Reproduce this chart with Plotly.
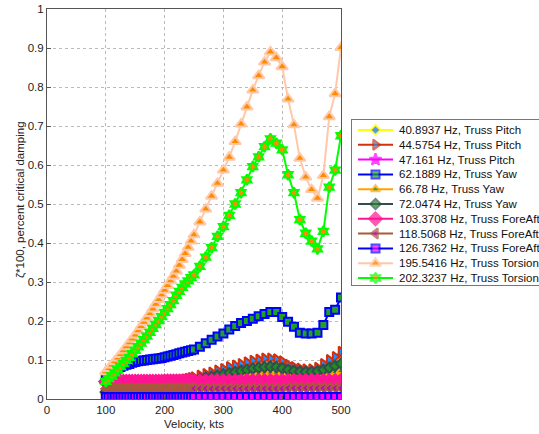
import plotly.graph_objects as go

velocity = [100, 105, 110, 115, 120, 125, 130, 135, 140, 145, 150, 155, 160, 165, 170, 175,
            180, 185, 190, 195, 200, 205, 210, 215, 220, 225, 230, 235, 240, 245, 250,
            260, 270, 280, 290, 300, 310, 320, 330, 340, 350, 360, 370, 380, 390, 400,
            410, 420, 430, 440, 450, 460, 470, 480, 490, 500]

pitch_40 = [0.015, 0.016, 0.017, 0.018, 0.019, 0.020, 0.021, 0.022, 0.022, 0.023, 0.024, 0.025,
            0.026, 0.026, 0.027, 0.028, 0.029, 0.030, 0.030, 0.031, 0.032, 0.033, 0.033, 0.034,
            0.035, 0.036, 0.036, 0.037, 0.038, 0.038, 0.039, 0.041, 0.042, 0.044, 0.045, 0.047,
            0.048, 0.050, 0.051, 0.052, 0.054, 0.055, 0.056, 0.057, 0.057, 0.056, 0.055, 0.054,
            0.053, 0.053, 0.053, 0.054, 0.055, 0.057, 0.059, 0.062]
pitch_44 = [0.020, 0.021, 0.022, 0.023, 0.024, 0.025, 0.026, 0.027, 0.028, 0.029, 0.030, 0.031,
            0.032, 0.033, 0.034, 0.035, 0.036, 0.037, 0.038, 0.039, 0.041, 0.042, 0.043, 0.044,
            0.045, 0.047, 0.048, 0.050, 0.052, 0.054, 0.056, 0.060, 0.064, 0.068, 0.073, 0.077,
            0.082, 0.086, 0.090, 0.094, 0.098, 0.101, 0.104, 0.104, 0.102, 0.097, 0.088, 0.082,
            0.078, 0.076, 0.076, 0.080, 0.090, 0.100, 0.108, 0.121]
pitch_47 = [0.036, 0.036, 0.036, 0.036, 0.036, 0.036, 0.036, 0.037, 0.037, 0.037, 0.037, 0.037,
            0.037, 0.037, 0.037, 0.037, 0.037, 0.037, 0.038, 0.038, 0.038, 0.038, 0.038, 0.038,
            0.038, 0.038, 0.038, 0.038, 0.038, 0.038, 0.038, 0.039, 0.039, 0.039, 0.039, 0.039,
            0.039, 0.040, 0.040, 0.040, 0.040, 0.040, 0.040, 0.040, 0.040, 0.040, 0.040, 0.040,
            0.040, 0.040, 0.040, 0.040, 0.040, 0.041, 0.041, 0.041]
yaw_62 = [0.058, 0.064, 0.069, 0.074, 0.078, 0.082, 0.085, 0.088, 0.090, 0.093, 0.095, 0.097,
          0.098, 0.099, 0.100, 0.101, 0.102, 0.103, 0.104, 0.105, 0.107, 0.109, 0.111, 0.113,
          0.115, 0.117, 0.119, 0.121, 0.123, 0.125, 0.127, 0.134, 0.143, 0.152, 0.160, 0.168,
          0.178, 0.187, 0.195, 0.200, 0.206, 0.212, 0.218, 0.223, 0.223, 0.210, 0.198, 0.185,
          0.170, 0.168, 0.168, 0.170, 0.190, 0.223, 0.229, 0.260]
yaw_66 = [0.016, 0.017, 0.018, 0.019, 0.020, 0.021, 0.022, 0.023, 0.024, 0.025, 0.026, 0.027,
          0.028, 0.028, 0.029, 0.030, 0.031, 0.032, 0.033, 0.034, 0.035, 0.035, 0.036, 0.037,
          0.038, 0.039, 0.039, 0.040, 0.041, 0.041, 0.042, 0.045, 0.047, 0.049, 0.051, 0.053,
          0.055, 0.057, 0.059, 0.061, 0.063, 0.065, 0.067, 0.068, 0.068, 0.066, 0.065, 0.063,
          0.062, 0.061, 0.061, 0.062, 0.064, 0.066, 0.069, 0.072]
yaw_72 = [0.018, 0.019, 0.020, 0.021, 0.022, 0.023, 0.024, 0.025, 0.026, 0.027, 0.028, 0.029,
          0.030, 0.031, 0.032, 0.033, 0.034, 0.035, 0.036, 0.037, 0.038, 0.039, 0.040, 0.041,
          0.042, 0.043, 0.044, 0.045, 0.046, 0.047, 0.048, 0.051, 0.054, 0.057, 0.060, 0.063,
          0.066, 0.069, 0.072, 0.075, 0.078, 0.080, 0.082, 0.083, 0.082, 0.079, 0.075, 0.072,
          0.070, 0.069, 0.069, 0.071, 0.075, 0.080, 0.085, 0.091]
foreaft_103 = [0.045, 0.045, 0.045, 0.045, 0.045, 0.045, 0.045, 0.045, 0.045, 0.045, 0.045, 0.045,
               0.045, 0.045, 0.045, 0.045, 0.045, 0.045, 0.045, 0.045, 0.046, 0.046, 0.046, 0.046,
               0.046, 0.046, 0.046, 0.046, 0.046, 0.046, 0.046, 0.046, 0.046, 0.046, 0.046, 0.046,
               0.046, 0.046, 0.046, 0.047, 0.047, 0.047, 0.047, 0.047, 0.047, 0.047, 0.047, 0.047,
               0.047, 0.047, 0.047, 0.047, 0.047, 0.047, 0.047, 0.047]
foreaft_118 = [0.026, 0.026, 0.026, 0.026, 0.026, 0.026, 0.026, 0.026, 0.026, 0.026, 0.026, 0.026,
               0.026, 0.026, 0.026, 0.026, 0.026, 0.026, 0.026, 0.026, 0.027, 0.027, 0.027, 0.027,
               0.027, 0.027, 0.027, 0.027, 0.027, 0.027, 0.027, 0.027, 0.027, 0.027, 0.027, 0.027,
               0.027, 0.027, 0.027, 0.027, 0.027, 0.027, 0.027, 0.027, 0.027, 0.027, 0.028, 0.028,
               0.028, 0.028, 0.028, 0.028, 0.028, 0.028, 0.028, 0.028]
foreaft_126 = [0.005, 0.005, 0.005, 0.005, 0.005, 0.005, 0.005, 0.005, 0.005, 0.005, 0.005, 0.005,
               0.005, 0.005, 0.005, 0.005, 0.005, 0.005, 0.005, 0.005, 0.005, 0.005, 0.005, 0.005,
               0.005, 0.005, 0.005, 0.005, 0.005, 0.005, 0.005, 0.005, 0.005, 0.005, 0.005, 0.005,
               0.005, 0.005, 0.005, 0.005, 0.005, 0.005, 0.005, 0.005, 0.005, 0.005, 0.005, 0.005,
               0.005, 0.005, 0.005, 0.005, 0.005, 0.005, 0.005, 0.005]
torsion_195 = [0.070, 0.078, 0.087, 0.096, 0.105, 0.114, 0.124, 0.134, 0.144, 0.154, 0.164, 0.175,
               0.186, 0.197, 0.208, 0.219, 0.231, 0.243, 0.255, 0.267, 0.279, 0.291, 0.303, 0.315,
               0.328, 0.343, 0.358, 0.373, 0.389, 0.405, 0.421, 0.454, 0.487, 0.520, 0.553, 0.587,
               0.620, 0.660, 0.705, 0.749, 0.792, 0.829, 0.864, 0.890, 0.875, 0.852, 0.769, 0.703,
               0.617, 0.569, 0.537, 0.515, 0.573, 0.724, 0.783, 0.901]
torsion_202 = [0.045, 0.052, 0.059, 0.067, 0.075, 0.083, 0.091, 0.099, 0.107, 0.116, 0.125, 0.134,
               0.143, 0.152, 0.161, 0.171, 0.181, 0.191, 0.201, 0.211, 0.222, 0.232, 0.242, 0.252,
               0.266, 0.276, 0.286, 0.295, 0.303, 0.311, 0.318, 0.340, 0.364, 0.388, 0.417, 0.442,
               0.471, 0.500, 0.529, 0.562, 0.596, 0.621, 0.647, 0.667, 0.656, 0.639, 0.575, 0.529,
               0.460, 0.425, 0.405, 0.385, 0.430, 0.543, 0.587, 0.675]

series_names = ["40.8937 Hz, Truss Pitch", "44.5754 Hz, Truss Pitch", "47.161 Hz, Truss Pitch",
                "62.1889 Hz, Truss Yaw", "66.78 Hz, Truss Yaw", "72.0474 Hz, Truss Yaw",
                "103.3708 Hz, Truss ForeAft", "118.5068 Hz, Truss ForeAft",
                "126.7362 Hz, Truss ForeAft", "195.5416 Hz, Truss Torsion",
                "202.3237 Hz, Truss Torsion"]
series_values = [pitch_40, pitch_44, pitch_47, yaw_62, yaw_66, yaw_72,
                 foreaft_103, foreaft_118, foreaft_126, torsion_195, torsion_202]

x_ticks = [0, 100, 200, 300, 400, 500]
y_ticks = [0, 0.1, 0.2, 0.3, 0.4, 0.5, 0.6, 0.7, 0.8, 0.9, 1]
y_tick_text = ["0", "0.1", "0.2", "0.3", "0.4", "0.5", "0.6", "0.7", "0.8", "0.9", "1"]

# style: (line colour, marker symbol, marker face, marker size)
styles = [
    ("#FFFF00", "diamond", "#1E6BFF", 8),
    ("#D4300C", "triangle-right", "#1E90FF", 9),
    ("#FF00FF", "star", "#FF00FF", 9),
    ("#0000FF", "square", "#22A022", 8),
    ("#FFA500", "triangle-up", "#228B22", 8),
    ("#2F4F4F", "diamond", "#228B22", 8),
    ("#FF1493", "diamond", "#FF1493", 10),
    ("#A85A3A", "triangle-left", "#C000C0", 9),
    ("#0000FF", "square", "#FF00FF", 8),
    ("#FFC8A8", "triangle-up", "#FF8C00", 10),
    ("#00FF00", "hexagram", "#FF8C00", 8),
]

W, H = 539, 434
font_family = "Liberation Sans, Arial, sans-serif"
txt_color = "#222222"

fig = go.Figure()
for name, vals, (col, sym, face, sz) in zip(series_names, series_values, styles):
    fig.add_trace(go.Scatter(
        x=velocity, y=vals, name=name, mode="lines+markers",
        line=dict(color=col, width=2),
        marker=dict(symbol=sym, size=sz, color=face, line=dict(color=col, width=2)),
        xaxis="x", yaxis="y", showlegend=False,
    ))

# ---- legend drawn in its own small axes (MATLAB-like compact legend) ----
leg_w, leg_h = 187, 165
row_step = 14.8
for i, (name, (col, sym, face, sz)) in enumerate(zip(series_names, styles)):
    ry = 10 + row_step * i
    fig.add_trace(go.Scatter(
        x=[6, 23.5, 41], y=[ry, ry, ry], mode="lines+markers",
        line=dict(color=col, width=2),
        marker=dict(symbol=sym, size=[0, sz, 0], color=face,
                    line=dict(color=col, width=[0, 2, 0])),
        xaxis="x2", yaxis="y2", showlegend=False, hoverinfo="skip",
    ))
    fig.add_annotation(x=45, y=ry, xref="x2", yref="y2", text=name, showarrow=False,
                       xanchor="left", yanchor="middle",
                       font=dict(size=11.5, color="#111111", family=font_family))

# y-axis title placed like MATLAB's ylabel
fig.add_annotation(x=20 / W, y=(H - 200) / H, xref="paper", yref="paper",
                   text="ζ*100, percent critical damping", textangle=-90, showarrow=False,
                   xanchor="center", yanchor="middle",
                   font=dict(size=11.5, color=txt_color, family=font_family))

axis_common = dict(
    showline=True, linecolor="#555555", linewidth=1, mirror=True,
    ticks="inside", ticklen=4, tickcolor="#555555",
    showgrid=True, gridcolor="#BBBBBB", griddash="dot", gridwidth=1,
    zeroline=False, tickfont=dict(size=11.5, color=txt_color, family=font_family),
)

fig.update_layout(
    template="none",
    width=W, height=H,
    margin=dict(l=0, r=0, t=0, b=0, pad=0, autoexpand=False),
    paper_bgcolor="white", plot_bgcolor="white",
    font=dict(family=font_family, size=11.5, color=txt_color),
    showlegend=False,
    xaxis=dict(domain=[47 / W, 341 / W], range=[0, 500], tickvals=x_ticks,
               anchor="y", automargin=False,
               title=dict(text="Velocity, kts", font=dict(size=11.5, color=txt_color),
                          standoff=5),
               **axis_common),
    yaxis=dict(domain=[(H - 399) / H, (H - 9) / H], range=[0, 1], tickvals=y_ticks,
               ticktext=y_tick_text, anchor="x", automargin=False,
               **axis_common),
    xaxis2=dict(domain=[352 / W, 1.0], range=[0, leg_w], anchor="y2",
                showline=True, mirror=True, linecolor="#777777", linewidth=1,
                showgrid=False, zeroline=False, showticklabels=False, ticks="",
                fixedrange=True),
    yaxis2=dict(domain=[(H - 285) / H, (H - 120) / H], range=[leg_h, 0], anchor="x2",
                showline=True, mirror=False, linecolor="#777777", linewidth=1,
                showgrid=False, zeroline=False, showticklabels=False, ticks="",
                fixedrange=True),
)

fig.write_html("out.html", config={"displayModeBar": False},
               post_script="document.body.style.margin='0px';")
